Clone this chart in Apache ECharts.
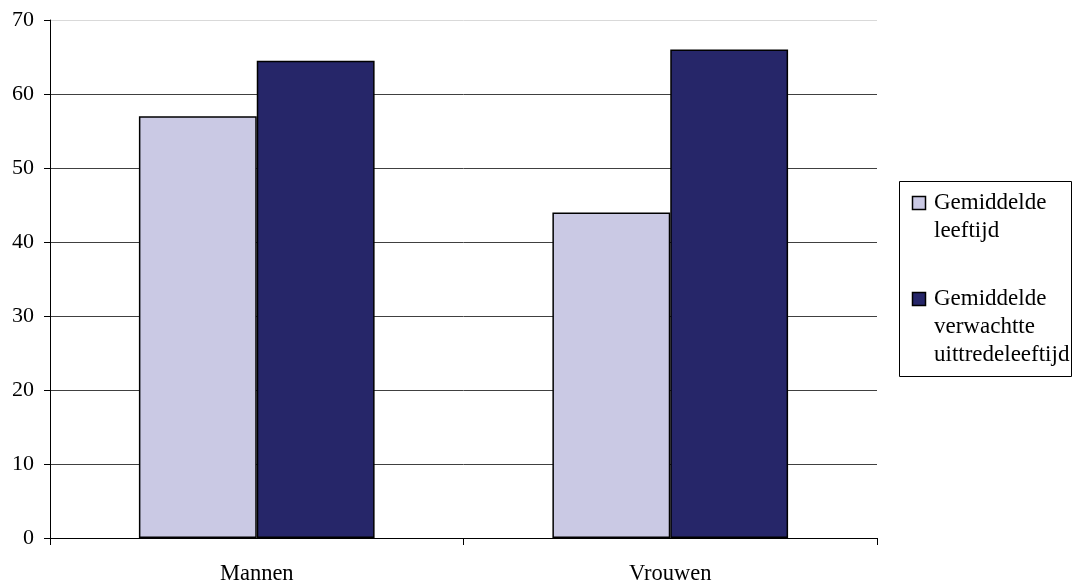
<!DOCTYPE html>
<html>
<head>
<meta charset="utf-8">
<script src="https://cdn.jsdelivr.net/npm/echarts@6/dist/echarts.min.js"></script>
<style>
  html, body { margin: 0; padding: 0; background: #ffffff; }
  #chart { width: 1073px; height: 586px; }
</style>
</head>
<body>
<div id="chart"></div>
<script>
// Categories and series values
const categories = ['Mannen', 'Vrouwen'];
const seriesNames = ['Gemiddelde\nleeftijd', 'Gemiddelde\nverwachtte\nuittredeleeftijd'];
const gemiddeldeLeeftijd = [57, 44];
const verwachteUittredeleeftijd = [64.5, 66];
const yTicks = [0, 10, 20, 30, 40, 50, 60, 70];

const seriesColors = ['#CAC9E4', '#262669'];
const FONT = '"Liberation Serif", "Times New Roman", serif';

const chart = echarts.init(document.getElementById('chart'), null, { renderer: 'canvas' });

// Grid lines: dark grey, except the top one which is pale
const splitColors = yTicks.map((t, i) => i === yTicks.length - 1 ? '#d9d9d9' : '#404040');

// Legend drawn as a framed box with square swatches, first line aligned with the swatch
const legendBox = { x: 899, y: 181, w: 172, h: 195 };
const legendItemTops = [203, 299];
const legendGraphics = [{
  type: 'rect',
  shape: { x: legendBox.x + 0.5, y: legendBox.y + 0.5, width: legendBox.w, height: legendBox.h },
  style: { fill: '#fff', stroke: '#000', lineWidth: 1 },
  silent: true
}];
seriesNames.forEach((name, i) => {
  const cy = legendItemTops[i];
  legendGraphics.push({
    type: 'rect',
    shape: { x: 912.5, y: cy - 6.5, width: 13, height: 13 },
    style: { fill: seriesColors[i], stroke: '#000', lineWidth: 1.5 },
    silent: true
  });
  legendGraphics.push({
    type: 'text',
    x: 934,
    y: cy - 14,
    style: {
      text: name,
      font: '23px ' + FONT,
      lineHeight: 28,
      fill: '#000',
      align: 'left',
      verticalAlign: 'top'
    },
    silent: true
  });
});

const option = {
  animation: false,
  backgroundColor: '#ffffff',
  grid: { left: 50, right: 196, top: 20, bottom: 48, containLabel: false },
  xAxis: {
    type: 'category',
    data: categories,
    axisLine: { show: true, lineStyle: { color: '#000', width: 1 } },
    axisTick: { show: true, alignWithLabel: false, length: 7, lineStyle: { color: '#000' } },
    axisLabel: { color: '#000', fontFamily: FONT, fontSize: 22.5, margin: 25 },
    splitLine: { show: false }
  },
  yAxis: {
    type: 'value',
    min: 0,
    max: 70,
    interval: 10,
    axisLine: { show: true, lineStyle: { color: '#000', width: 1 } },
    axisTick: { show: true, length: 6, lineStyle: { color: '#000' } },
    axisLabel: { color: '#000', fontFamily: FONT, fontSize: 22, margin: 16 },
    splitLine: { show: true, lineStyle: { color: splitColors, width: 1 } }
  },
  series: [
    {
      name: seriesNames[0],
      type: 'bar',
      data: gemiddeldeLeeftijd,
      barGap: '0%',
      barCategoryGap: '43%',
      itemStyle: { color: seriesColors[0], borderColor: '#000', borderWidth: 1.5 }
    },
    {
      name: seriesNames[1],
      type: 'bar',
      data: verwachteUittredeleeftijd,
      barGap: '0%',
      barCategoryGap: '43%',
      itemStyle: { color: seriesColors[1], borderColor: '#000', borderWidth: 1.5 }
    }
  ],
  graphic: legendGraphics
};

chart.setOption(option);
</script>
</body>
</html>
